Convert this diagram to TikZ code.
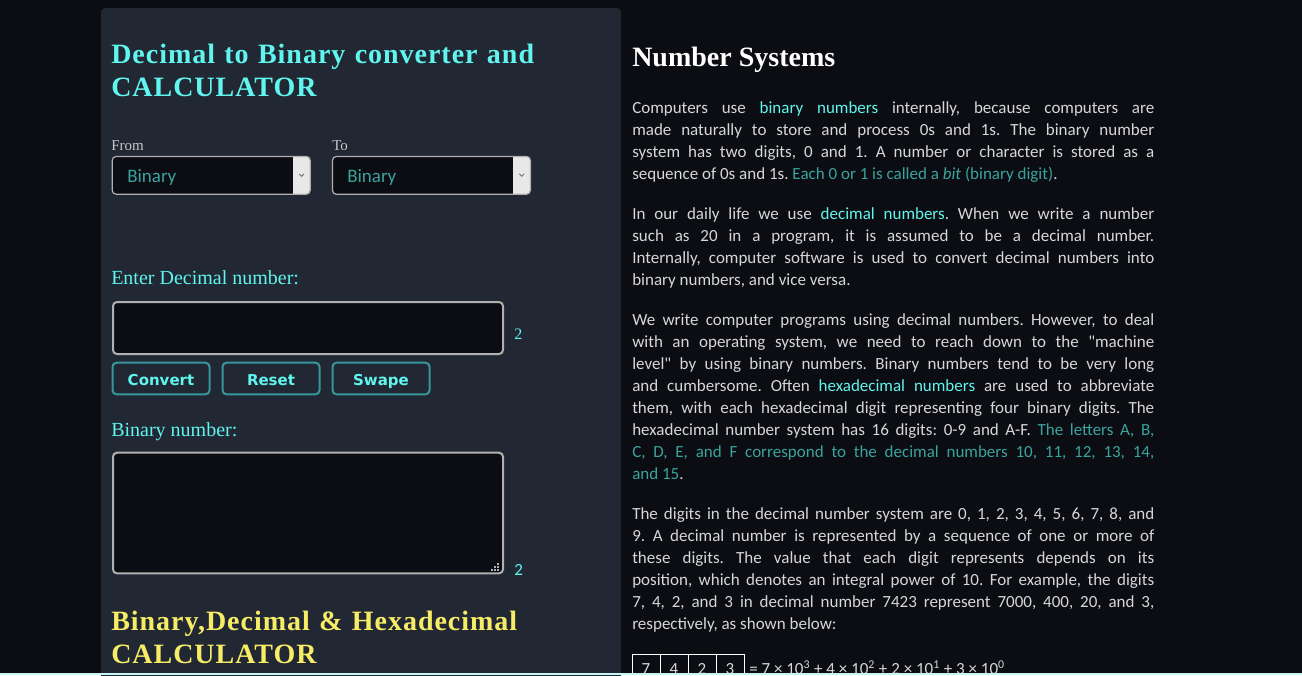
\documentclass[tikz,border=0pt]{standalone}
\usepackage{fontspec}
\setmainfont{Liberation Serif}
\newfontfamily\bodyfont{Carlito}
\newfontfamily\buttonfont{DejaVu Sans}
\newfontfamily\spacedfont[LetterSpace=3.5]{Liberation Serif}
\usetikzlibrary{positioning}
\frenchspacing
\definecolor{pagebg}{HTML}{0B0D12}
\definecolor{panelbg}{HTML}{212733}
\definecolor{aqua}{HTML}{60F5EE}
\definecolor{deepteal}{HTML}{3AA39E}
\definecolor{bodygrey}{HTML}{D7D7D7}
\definecolor{labelgrey}{HTML}{C8C8C8}
\definecolor{sunny}{HTML}{F7EC66}
\definecolor{fieldline}{HTML}{B0B0B0}
\definecolor{buttonline}{HTML}{37979A}
\definecolor{edgeline}{HTML}{C8F5F5}
\tikzset{
    panel-title/.style = {anchor=base west, inner sep=0pt, text width=337.5pt, align=left, font=\spacedfont\bfseries\fontsize{21}{24.75}\selectfont},
    field-label/.style = {anchor=base west, inner sep=0pt, text=aqua, font=\fontsize{15}{18}\selectfont},
    small-label/.style = {anchor=base west, inner sep=0pt, text=labelgrey, font=\fontsize{11.25}{13}\selectfont},
    select-box/.style = {draw=fieldline, fill=pagebg, line width=0.9pt, rounded corners=3pt, anchor=north west, minimum width=148.5pt, minimum height=28.4pt, inner sep=0pt,
        path picture={
            \fill[black!9, sharp corners] ([xshift=-12.75pt]path picture bounding box.north east) rectangle (path picture bounding box.south east);
            \draw[black!55, line width=0.75pt, sharp corners] ([xshift=-8.3pt, yshift=1.1pt]path picture bounding box.east) -- ++(1.8pt,-1.8pt) -- ++(1.8pt,1.8pt);
        }},
    select-text/.style = {anchor=base west, inner sep=0pt, text=deepteal, font=\bodyfont\fontsize{14.25}{17}\selectfont},
    field-box/.style = {draw=fieldline, fill=pagebg, line width=1.5pt, rounded corners=3pt, anchor=north west, minimum width=292.5pt, inner sep=0pt},
    push-button/.style = {draw=buttonline, fill=panelbg, line width=1.5pt, rounded corners=3pt, minimum width=72.75pt, minimum height=23.7pt, inner sep=0pt, text height=10.2pt, text depth=0pt, text=aqua, font=\buttonfont\bfseries\fontsize{11.25}{13}\selectfont},
    count-label/.style = {anchor=base west, inner sep=0pt, text=aqua},
    para/.style = {anchor=base west, inner sep=0pt, text width=391.5pt, align=justify, text=bodygrey, font=\bodyfont\fontsize{12.75}{16.5}\selectfont},
    digit-box/.style = {draw=white, line width=0.75pt, outer sep=0pt, anchor=north west, minimum width=21pt, minimum height=22.5pt, inner sep=0pt, text=bodygrey, font=\bodyfont\fontsize{12.75}{15}\selectfont},
}

\begin{document}
\begin{tikzpicture}[x=0.75pt, y=-0.75pt]
\useasboundingbox (0,0) rectangle (1302,675);
\fill[pagebg] (0,0) rectangle (1302,675);
\fill[panelbg, rounded corners=3pt] (101,8) rectangle (621,690);

% converter panel
\node[panel-title, text=aqua] (conv-title) at (111,63.5) {Decimal to Binary converter and\\CALCULATOR};
\node[small-label] (from-label) at (111,150.7) {From};
\node[small-label] (to-label) at (332,150.7) {To};
\node[select-box] (from-box) at (111.6,155.8) {};
\node[select-box] (to-box) at (331.8,155.8) {};
\node[select-text] (from-value) at (127,182.7) {Binary};
\node[select-text] (to-value) at (347,182.7) {Binary};

\node[field-label] (enter-label) at (111,284) {Enter Decimal number:};
\node[field-box, minimum height=39pt] (dec-field) at (112,301) {};
\node[count-label, font=\fontsize{12}{14}\selectfont] (dec-count) at (514,339) {2};

\node[push-button] (convert) at (161,378.5) {Convert};
\node[push-button, right=8.25pt of convert] (reset) {Reset};
\node[push-button, right=8.25pt of reset] (swape) {Swape};

\node[field-label] (bin-label) at (111,436) {Binary number:};
\node[field-box, minimum height=90.5pt] (bin-field) at (112,451.7) {};
\foreach \gx/\gy in {497/563, 494/566, 497/566, 491/569, 494/569, 497/569}
    \fill[fieldline] (\gx,\gy) rectangle ++(1.5,1.5);
\node[count-label, font=\bodyfont\fontsize{12.75}{15}\selectfont] (bin-count) at (514,575) {2};

\node[panel-title, text=sunny] (calc-title) at (111,630) {Binary,Decimal \& Hexadecimal\\CALCULATOR};

% number systems text
\node[anchor=base west, inner sep=0pt, text=white, font=\bfseries\fontsize{21}{24}\selectfont] (ns-title) at (632,66.5) {Number Systems};

\node[para] (p1) at (632,113) {Computers use \textcolor{aqua}{binary numbers} internally, because computers are\linebreak made naturally to store and process 0s and 1s. The binary number\linebreak system has two digits, 0 and 1. A number or character is stored as a\linebreak sequence of 0s and 1s. \textcolor{deepteal}{Each 0 or 1 is called a \textit{bit} (binary digit)}.};

\node[para] (p2) at (632,219) {In our daily life we use \textcolor{aqua}{decimal numbers}. When we write a number\linebreak such as 20 in a program, it is assumed to be a decimal number.\linebreak Internally, computer software is used to convert decimal numbers into\linebreak binary numbers, and vice versa.};

\node[para] (p3) at (632,325) {We write computer programs using decimal numbers. However, to deal\linebreak with an operating system, we need to reach down to the "machine\linebreak level" by using binary numbers. Binary numbers tend to be very long\linebreak and cumbersome. Often \textcolor{aqua}{hexadecimal numbers} are used to abbreviate\linebreak them, with each hexadecimal digit representing four binary digits. The\linebreak hexadecimal number system has 16 digits: 0-9 and A-F. \textcolor{deepteal}{The letters A, B,\linebreak C, D, E, and F correspond to the decimal numbers 10, 11, 12, 13, 14,\linebreak and 15}.};

\node[para] (p4) at (632,519) {The digits in the decimal number system are 0, 1, 2, 3, 4, 5, 6, 7, 8, and\linebreak 9. A decimal number is represented by a sequence of one or more of\linebreak these digits. The value that each digit represents depends on its\linebreak position, which denotes an integral power of 10. For example, the digits\linebreak 7, 4, 2, and 3 in decimal number 7423 represent 7000, 400, 20, and 3,\linebreak respectively, as shown below:};

\foreach \dig [count=\i] in {7,4,2,3}
    \node[digit-box] (d\i) at (604+28*\i,654) {\dig};
\node[anchor=base west, inner sep=0pt, text=bodygrey, font=\bodyfont\fontsize{12.75}{15}\selectfont] (eq) at ([xshift=3.75pt]d4.base east) {= 7 × 10\textsuperscript{3} + 4 × 10\textsuperscript{2} + 2 × 10\textsuperscript{1} + 3 × 10\textsuperscript{0}};

\fill[edgeline] (0,673) rectangle (1302,675);
\end{tikzpicture}
\end{document}
